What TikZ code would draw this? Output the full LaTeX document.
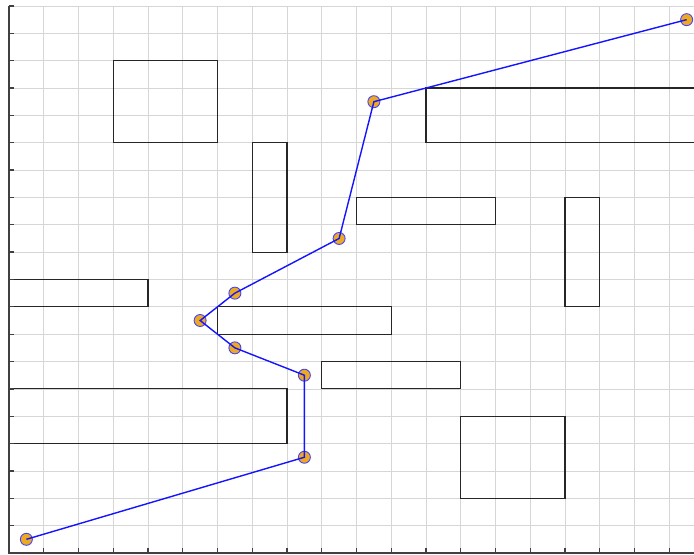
\documentclass[tikz,border=0pt]{standalone}
\usetikzlibrary{calc}
\definecolor{pathblue}{RGB}{20,20,255}
\definecolor{markfill}{RGB}{237,170,32}
\tikzset{
  gridline/.style={draw=black!16, line width=0.7pt},
  obstacle/.style={draw=black!85, line width=1.1pt},
  axisline/.style={draw=black!75, line width=1.4pt},
  tickmark/.style={draw=black!75, line width=1.3pt},
  route/.style={draw=pathblue, line width=1.4pt},
  waypt/.style={circle, inner sep=0pt, minimum size=12pt, fill=markfill, draw=pathblue!80, line width=0.9pt}
}
\begin{document}
\begin{tikzpicture}[x=34.75pt, y=27.35pt]
\useasboundingbox (-0.259,-0.073) rectangle (19.712,20.219);
\clip (-0.259,-0.073) rectangle (19.712,20.219);
% grid
\foreach \i in {1,...,20} \draw[gridline] (\i,0) -- (\i,20);
\foreach \j in {1,...,20} \draw[gridline] (0,\j) -- (20.5,\j);
% obstacles
\draw[obstacle] (3,15) rectangle (6,18);
\draw[obstacle] (7,11) rectangle (8,15);
\draw[obstacle] (12,15) rectangle (20.6,17);
\draw[obstacle] (10,12) rectangle (14,13);
\draw[obstacle] (16,9) rectangle (17,13);
\draw[obstacle] (0,9) rectangle (4,10);
\draw[obstacle] (6,8) rectangle (11,9);
\draw[obstacle] (9,6) rectangle (13,7);
\draw[obstacle] (0,4) rectangle (8,6);
\draw[obstacle] (13,2) rectangle (16,5);
% axes
\draw[axisline] (0,20) -- (0,0) -- (20.5,0);
\foreach \j in {1,...,20} \draw[tickmark] (0,\j) -- ++(5pt,0);
\foreach \i in {1,...,20} \draw[tickmark] (\i,0) -- ++(0,5pt);
% waypoints
\node[waypt] (p0) at (0.5,0.5) {};
\node[waypt] (p1) at (8.5,3.5) {};
\node[waypt] (p2) at (8.5,6.5) {};
\node[waypt] (p3) at (6.5,7.5) {};
\node[waypt] (p4) at (5.5,8.5) {};
\node[waypt] (p5) at (6.5,9.5) {};
\node[waypt] (p6) at (9.5,11.5) {};
\node[waypt] (p7) at (10.5,16.5) {};
\node[waypt] (p8) at (19.5,19.5) {};
\draw[route] (p0.center) -- (p1.center) -- (p2.center) -- (p3.center) -- (p4.center) -- (p5.center) -- (p6.center) -- (p7.center) -- (p8.center);
\end{tikzpicture}
\end{document}
